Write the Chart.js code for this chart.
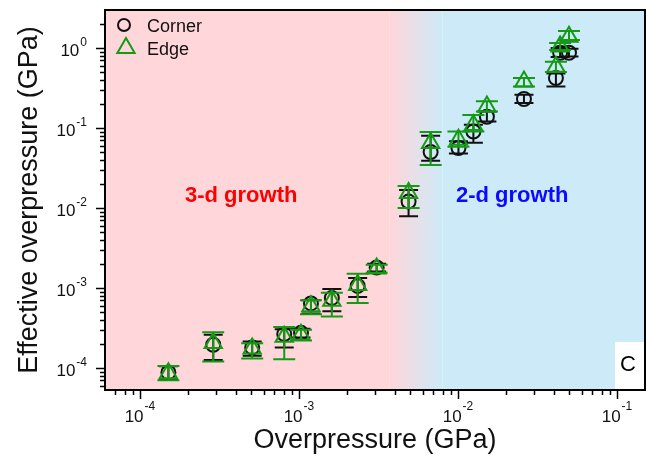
<!DOCTYPE html>
<html><head><meta charset="utf-8">
<script src="https://cdn.jsdelivr.net/npm/chart.js@4.4.0/dist/chart.umd.min.js"></script>
<style>html,body{margin:0;padding:0;background:#fff;}</style>
</head><body>
<canvas id="c" width="647" height="458"></canvas>
<script>
// ---- data (GPa) ----
const overpressure = [1.51e-4, 2.89e-4, 5.08e-4, 8.08e-4, 1.03e-3, 1.19e-3, 1.61e-3, 2.34e-3, 3.08e-3, 4.89e-3, 6.73e-3, 1.007e-2, 1.25e-2, 1.52e-2, 2.6e-2, 4.13e-2, 4.39e-2, 4.99e-2];
const cornerY  = [8.8e-5, 1.95e-4, 1.8e-4, 2.65e-4, 2.75e-4, 6.4e-4, 7.5e-4, 1.06e-3, 1.8e-3, 0.012, 0.050, 0.056, 0.090, 0.138, 0.23, 0.42, 0.87, 0.87];
const cornerLo = [7.2e-5, 1.26e-4, 1.42e-4, 1.8e-4, 2.4e-4, 4.8e-4, 5.1e-4, 7.7e-4, 1.6e-3, 0.0079, 0.039, 0.048, 0.0655, 0.12, 0.205, 0.33, 0.77, 0.78];
const cornerHi = [1.05e-4, 2.6e-4, 2.14e-4, 3.05e-4, 3.1e-4, 7.0e-4, 9.7e-4, 1.33e-3, 2.0e-3, 0.0168, 0.080, 0.068, 0.11, 0.16, 0.26, 0.48, 1.0, 0.98];
const edgeY    = [8.6e-5, 2.05e-4, 1.75e-4, 2.45e-4, 2.6e-4, 5.9e-4, 6.9e-4, 1.09e-3, 1.75e-3, 0.0154, 0.065, 0.071, 0.109, 0.185, 0.38, 0.58, 1.04, 1.38];
const edgeLo   = [7.0e-5, 1.2e-4, 1.31e-4, 1.28e-4, 2.2e-4, 4.7e-4, 4.4e-4, 6.5e-4, 1.55e-3, 0.010, 0.0345, 0.058, 0.09, 0.16, 0.33, 0.50, 0.94, 1.26];
const edgeHi   = [1.06e-4, 2.8e-4, 2.04e-4, 3.25e-4, 3.0e-4, 7.0e-4, 8.7e-4, 1.5e-3, 1.95e-3, 0.0188, 0.089, 0.090, 0.145, 0.215, 0.42, 0.67, 1.155, 1.63];
const xTickExps = [-4, -3, -2, -1];
const yTickExps = [0, -1, -2, -3, -4];
const seriesNames = ['Corner', 'Edge'];
const regionLabels = ['3-d growth', '2-d growth'];
const regionBoundary = [0.0037, 0.0080]; // pink -> blue transition (GPa)

const FONT = '"Liberation Sans", Arial, Helvetica, sans-serif';
const PINK = '#ffd6da', BLUE = '#cdeaf8', GREEN = '#159a15', BLACK = '#111';

const errLo = [cornerLo, edgeLo], errHi = [cornerHi, edgeHi];
const capW = [19, 22], errCol = [BLACK, GREEN];

const bgPlugin = {
  id: 'bg',
  beforeDatasetsDraw(chart) {
    const {ctx, chartArea: a, scales: {x}} = chart;
    const p1 = x.getPixelForValue(regionBoundary[0]), p2 = x.getPixelForValue(regionBoundary[1]);
    const h = a.bottom - a.top;
    ctx.save();
    ctx.fillStyle = PINK; ctx.fillRect(a.left, a.top, p1 - a.left, h);
    const g = ctx.createLinearGradient(p1, 0, p2, 0);
    g.addColorStop(0, PINK); g.addColorStop(1, BLUE);
    ctx.fillStyle = g; ctx.fillRect(p1, a.top, p2 - p1, h);
    ctx.fillStyle = BLUE; ctx.fillRect(p2, a.top, a.right - p2, h);
    // region labels
    ctx.font = 'bold 22px ' + FONT;
    ctx.textBaseline = 'alphabetic'; ctx.textAlign = 'left';
    ctx.fillStyle = '#ff0000'; ctx.fillText(regionLabels[0], 185, 202);
    ctx.fillStyle = '#0a0aff'; ctx.fillText(regionLabels[1], 456, 202);
    // panel letter box
    ctx.fillStyle = '#fff'; ctx.fillRect(615, 342, a.right - 615, a.bottom - 342);
    ctx.fillStyle = '#000'; ctx.font = '22px ' + FONT; ctx.textAlign = 'center';
    ctx.fillText('C', 628, 371);
    // legend
    ctx.lineWidth = 2;
    ctx.strokeStyle = BLACK;
    ctx.beginPath(); ctx.arc(124, 25, 6, 0, Math.PI * 2); ctx.stroke();
    ctx.strokeStyle = GREEN;
    const r = 10;
    ctx.beginPath();
    ctx.moveTo(126, 48 - r); ctx.lineTo(126 + r * 0.866, 48 + r / 2); ctx.lineTo(126 - r * 0.866, 48 + r / 2); ctx.closePath(); ctx.stroke();
    ctx.fillStyle = '#111'; ctx.font = '18px ' + FONT; ctx.textAlign = 'left';
    ctx.fillText(seriesNames[0], 147, 32);
    ctx.fillText(seriesNames[1], 147, 55);
    ctx.restore();
  },
  beforeDatasetDraw(chart, args) {
    const i = args.index;
    const {ctx, scales: {x, y}} = chart;
    ctx.save();
    ctx.strokeStyle = errCol[i]; ctx.lineWidth = 2;
    overpressure.forEach((v, k) => {
      const px = x.getPixelForValue(v);
      const yl = y.getPixelForValue(errLo[i][k]), yh = y.getPixelForValue(errHi[i][k]);
      const w = capW[i] / 2;
      ctx.beginPath();
      ctx.moveTo(px, yl); ctx.lineTo(px, yh);
      ctx.moveTo(px - w, yl); ctx.lineTo(px + w, yl);
      ctx.moveTo(px - w, yh); ctx.lineTo(px + w, yh);
      ctx.stroke();
    });
    ctx.restore();
  },
  afterDatasetsDraw(chart) {
    const {ctx, chartArea: a, scales: {x, y}} = chart;
    ctx.save();
    ctx.strokeStyle = '#000';
    ctx.lineWidth = 1.5;
    ctx.beginPath();
    for (let e = -6; e <= 1; e++) for (let m = 1; m <= 9; m++) {
      const v = m * Math.pow(10, e);
      if (v >= x.min && v <= x.max) {
        const px = Math.round(x.getPixelForValue(v)) + 0.5, len = m === 1 ? 9 : 5;
        ctx.moveTo(px, a.bottom); ctx.lineTo(px, a.bottom + len);
      }
      if (v >= y.min && v <= y.max) {
        const py = Math.round(y.getPixelForValue(v)) + 0.5, len = m === 1 ? 9 : 5;
        ctx.moveTo(a.left, py); ctx.lineTo(a.left - len, py);
      }
    }
    ctx.stroke();
    ctx.lineWidth = 2;
    ctx.strokeRect(a.left, a.top, a.right - a.left, a.bottom - a.top);
    // tick labels
    ctx.fillStyle = '#111'; ctx.textBaseline = 'alphabetic'; ctx.textAlign = 'left';
    const big = '17px ' + FONT, small = '12px ' + FONT;
    xTickExps.forEach(e => {
      const px = x.getPixelForValue(Math.pow(10, e));
      ctx.font = big; const w1 = ctx.measureText('10').width;
      ctx.font = small; const w2 = ctx.measureText(String(e)).width;
      const start = px - (w1 + 1 + w2) / 2;
      ctx.font = big; ctx.fillText('10', start, 422);
      ctx.font = small; ctx.fillText(String(e), start + w1 + 1, 410);
    });
    yTickExps.forEach(e => {
      const py = y.getPixelForValue(Math.pow(10, e));
      ctx.font = small; const w2 = ctx.measureText(String(e)).width;
      ctx.font = big; const w1 = ctx.measureText('10').width;
      const right = 87;
      ctx.font = small; ctx.fillText(String(e), right - w2, py - 1.6);
      ctx.font = big; ctx.fillText('10', right - w2 - 1 - w1, py + 8.4);
    });
    // axis titles
    ctx.font = '27px ' + FONT; ctx.textAlign = 'center';
    ctx.fillText('Overpressure (GPa)', (a.left + a.right) / 2, 448);
    ctx.translate(37, (a.top + a.bottom) / 2);
    ctx.rotate(-Math.PI / 2);
    ctx.fillText('Effective overpressure (GPa)', 0, 0);
    ctx.restore();
  }
};

const mk = (ys) => overpressure.map((v, k) => ({x: v, y: ys[k]}));

new Chart(document.getElementById('c'), {
  type: 'scatter',
  data: {
    datasets: [
      {label: seriesNames[0], data: mk(cornerY), pointStyle: 'circle', pointRadius: 7, borderColor: BLACK, backgroundColor: 'rgba(0,0,0,0)', borderWidth: 2, order: 2},
      {label: seriesNames[1], data: mk(edgeY), pointStyle: 'triangle', pointRadius: 10, borderColor: GREEN, backgroundColor: 'rgba(0,0,0,0)', borderWidth: 2, order: 1}
    ]
  },
  options: {
    responsive: false,
    animation: false,
    devicePixelRatio: 1,
    layout: {autoPadding: false, padding: {left: 105, right: 2, top: 10, bottom: 68}},
    plugins: {legend: {display: false}, tooltip: {enabled: false}},
    scales: {
      x: {type: 'logarithmic', display: false, min: 6.03e-5, max: 0.15},
      y: {type: 'logarithmic', display: false, min: 5.3e-5, max: 2.98}
    }
  },
  plugins: [bgPlugin]
});
</script>
</body></html>
